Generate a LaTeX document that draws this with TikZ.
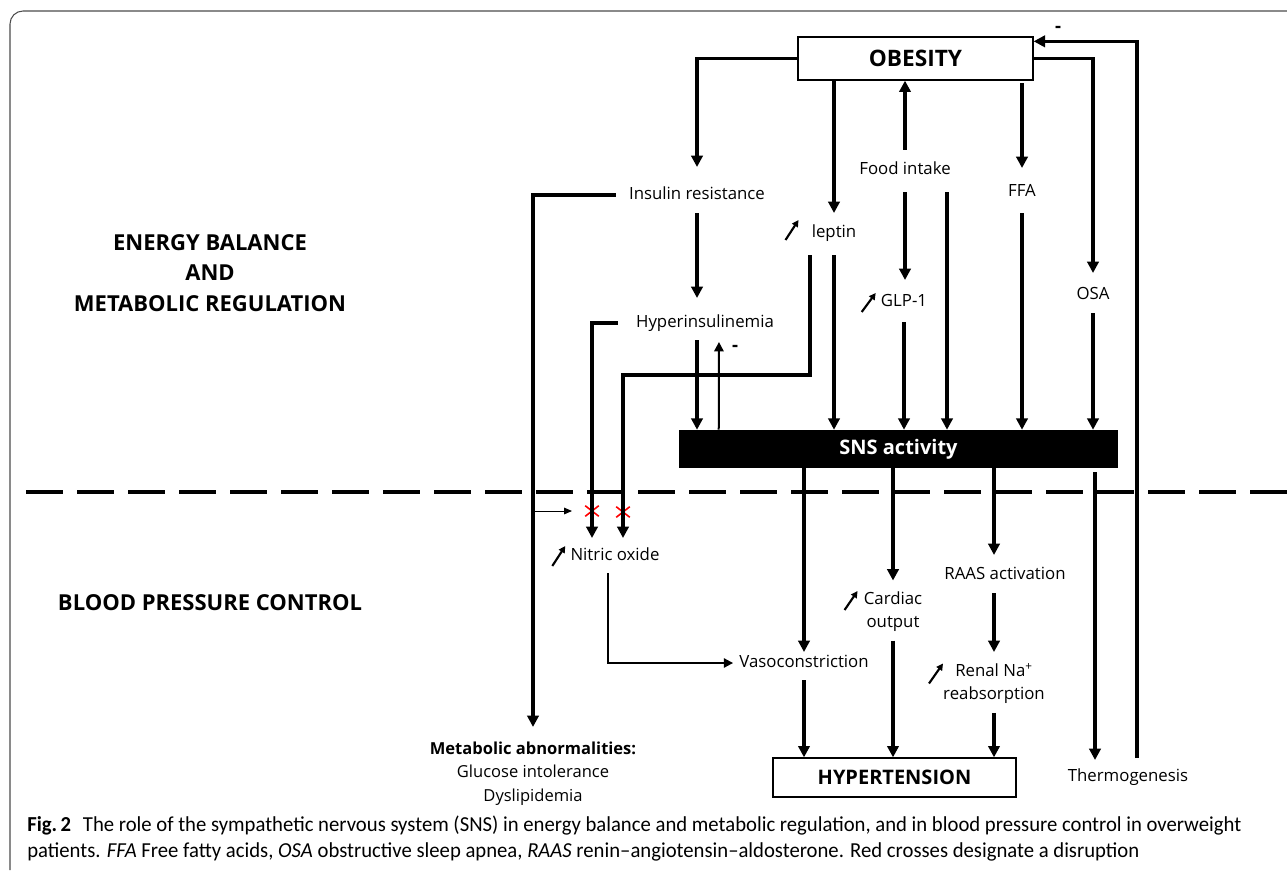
\documentclass[tikz,border=0pt]{standalone}
\usepackage{fontspec}
\setmainfont{Open Sans}
\newfontfamily\capfont[FakeStretch=0.97]{Carlito}
\usetikzlibrary{arrows.meta,calc,shapes.misc}
\begin{document}
\begin{tikzpicture}[x=0.75pt,y=-0.75pt,
  lbl/.style={inner sep=0pt, align=center, font=\fontsize{12.6}{17.25}\selectfont, text height=9.5pt, text depth=2.8pt},
  lbltwo/.style={inner sep=0pt, align=center, font=\fontsize{12.6}{17.25}\selectfont},
  ttl/.style={inner sep=0pt, align=center, font=\bfseries\fontsize{16.5}{22.9}\selectfont},
  boxw/.style={draw, line width=1pt, inner sep=0pt, font=\bfseries\fontsize{16}{18}\selectfont},
  ar/.style={line width=2.4pt, -{Triangle[length=8.5pt,width=8.5pt]}},
  arm/.style={line width=1.5pt, -{Triangle[length=7pt,width=7pt]}},
  art/.style={line width=0.75pt, -{Triangle[length=6pt,width=5pt]}},
  inc/.style={line width=1.6pt, -{Triangle[length=5pt,width=5pt]}},
  xmark/.style={cross out, draw=red, line width=1.2pt, minimum width=9pt, minimum height=6.75pt, inner sep=0pt},
  minus/.style={inner sep=0pt, font=\bfseries\fontsize{14}{14}\selectfont},
  captext/.style={inner sep=0pt, anchor=base west, font=\capfont\fontsize{16}{18}\selectfont}
]
\useasboundingbox (0,0) rectangle (1287,870);
% frame
\draw[gray!60!black, line width=0.8pt, rounded corners=9.75pt] (10,870) -- (10,11) -- (1287,11);
% separator
\draw[line width=3pt, dash pattern=on 27.75pt off 10.5pt] (26,492) -- (1287,492);

% nodes
\node[boxw, minimum width=176.25pt, minimum height=32.25pt, font=\bfseries\fontsize{17}{19}\selectfont] (obesity) at (915.5,58.5) {OBESITY};
\node[lbl] (insres) at (697,195) {Insulin resistance};
\node[lbl] (leptin) at (834,233) {leptin};
\node[lbl] (food) at (905,170) {Food intake};
\node[lbl] (ffa) at (1022,192) {FFA};
\node[lbl] (hyper) at (705,323) {Hyperinsulinemia};
\node[lbl] (glp) at (904,302) {GLP-1};
\node[lbl] (osa) at (1093,295) {OSA};
\node[fill=black, text=white, inner sep=0pt, minimum width=329.25pt, minimum height=28.5pt,
      font=\bfseries\fontsize{15}{17}\selectfont] (sns) at (898.5,449) {SNS activity};
\node[lbl] (nitric) at (615,556) {Nitric oxide};
\node[lbltwo] (cardiac) at (893,611.5) {Cardiac\\output};
\node[lbl] (raas) at (1005,575) {RAAS activation};
\node[lbl] (vaso) at (804,663) {Vasoconstriction};
\node[lbltwo] (renal) at (994,683.5) {Renal Na\textsuperscript{+}\\reabsorption};
\node[boxw, minimum width=182.25pt, minimum height=29.25pt, font=\bfseries\fontsize{15}{17}\selectfont] (hyp) at (894.5,777.5) {HYPERTENSION};
\node[lbl] (thermo) at (1128,777) {Thermogenesis};
\node[lbltwo, font=\fontsize{12.4}{17.6}\selectfont] (metab) at (533,773.5) {\textbf{Metabolic abnormalities:}\\Glucose intolerance\\Dyslipidemia};
\node[ttl] (energy) at (210,273) {ENERGY BALANCE\\AND\\METABOLIC REGULATION};
\node[ttl] (bp) at (210,603) {BLOOD PRESSURE CONTROL};
\node[minus] (m1) at (1058,29) {-};
\node[minus] (m2) at (735,348) {-};
\node[xmark] (x1) at (592,511) {};
\node[xmark] (x2) at (623,512) {};

\coordinate (thx) at ($(thermo.center)+(-33,0)$);
\coordinate (fb) at ($(thermo.center)+(9,-19)$);
\coordinate (foodr) at ($(food.center)+(42,0)$);
\coordinate (leptl) at ($(leptin.center)+(-24,0)$);
\coordinate (nitl) at ($(nitric.center)+(-23,0)$);
\coordinate (nitr) at ($(nitric.center)+(8,0)$);
\coordinate (nitd) at ($(nitric.center)+(-7,0)$);
\coordinate (upfoot) at ($(sns.north west)+(40,0)$);
\coordinate (uphead) at ($(hyper.center)+(14,0)$);

% connectors - top
\draw[ar, shorten >=21pt] (obesity.west) -| (insres.center);
\draw[ar, shorten >=15pt] (obesity.south -| leptin.center) -- (leptin.center);
\draw[ar, shorten <=15pt] (food.center) -- (obesity.south -| food.center);
\draw[ar, shorten <=2pt, shorten >=18pt] (obesity.south -| ffa.center) -- (ffa.center);
\draw[ar, shorten >=16.5pt] (obesity.east) -| (osa.center);
\draw[ar] (fb) |- ($(obesity.north east)+(0,5)$);

\draw[ar, shorten <=10pt, shorten >=34.9pt] (insres.west) -| (metab.center);
\draw[ar, shorten <=13.5pt, shorten >=18.75pt] (insres.center) -- (insres.center |- hyper.center);
\draw[ar, shorten <=13.5pt, shorten >=13.5pt] (hyper.west) -| (nitl);
\draw[ar, shorten <=12.75pt] (insres.center |- hyper.center) -- (insres.center |- sns.north);
\draw[arm, shorten >=14.25pt] (upfoot) -- (uphead);
\draw[ar, shorten <=16.5pt, shorten >=13.5pt] (leptl) -- ++(0,142) -| (nitr);
\draw[ar, shorten <=16.5pt] (leptin.center) -- (leptin.center |- sns.north);
\draw[ar, shorten <=16.5pt, shorten >=16.5pt] (food.center) -- (food.center |- glp.center);
\draw[ar, shorten <=16.5pt] (foodr) -- (foodr |- sns.north);
\draw[ar, shorten <=15pt] (glp.center) -- (glp.center |- sns.north);
\draw[ar, shorten <=15.75pt] (ffa.center) -- (ffa.center |- sns.north);
\draw[ar, shorten <=13.5pt] (osa.center) -- (osa.center |- sns.north);

% connectors - bottom
\draw[art, shorten >=15pt] (metab.center |- x1.center) -- (x1.center);
\draw[ar, shorten >=8.25pt] (sns.south -| vaso.center) -- (vaso.center);
\draw[ar, shorten >=23.25pt] (sns.south -| cardiac.center) -- (cardiac.center);
\draw[ar, shorten >=15pt] (sns.south -| renal.center) -- (renal.center |- raas.center);
\draw[ar, shorten <=3pt, shorten >=12.75pt] (sns.south -| thx) -- (thx);
\draw[arm, shorten <=12.75pt, shorten >=4.5pt] (nitd) |- (vaso.west);
\draw[ar, shorten <=13.5pt, shorten >=23.6pt] (renal.center |- raas.center) -- (renal.center);
\draw[ar, shorten <=12.75pt] (vaso.center) -- (vaso.center |- hyp.north);
\draw[ar, shorten <=21.75pt] (cardiac.center) -- (cardiac.center |- hyp.north);
\draw[ar, shorten <=22pt] (renal.center) -- (renal.center |- hyp.north);

% increase arrows
\draw[inc] ($(leptin.west)+(-26,7)$) -- ++(13,-20);
\draw[inc] ($(glp.west)+(-19,10)$) -- ++(14,-19);
\draw[inc] ($(nitric.west)+(-18,10)$) -- ++(13,-20);
\draw[inc] ($(cardiac.west)+(-19,-1.5)$) -- ++(13,-19);
\draw[inc] ($(renal.center)+(-65,0)$) -- ++(14,-20);

% caption
\node[captext] (cap1) at (27,831) {\textbf{Fig.\,2}\hspace{0.55em}The role of the sympathetic nervous system (SNS) in energy balance and metabolic regulation, and in blood pressure control in overweight};
\node[captext] (cap2) at (27,857) {patients. \textit{FFA} Free fatty acids, \textit{OSA} obstructive sleep apnea, \textit{RAAS} renin–angiotensin–aldosterone. Red crosses designate a disruption};
\end{tikzpicture}
\end{document}
